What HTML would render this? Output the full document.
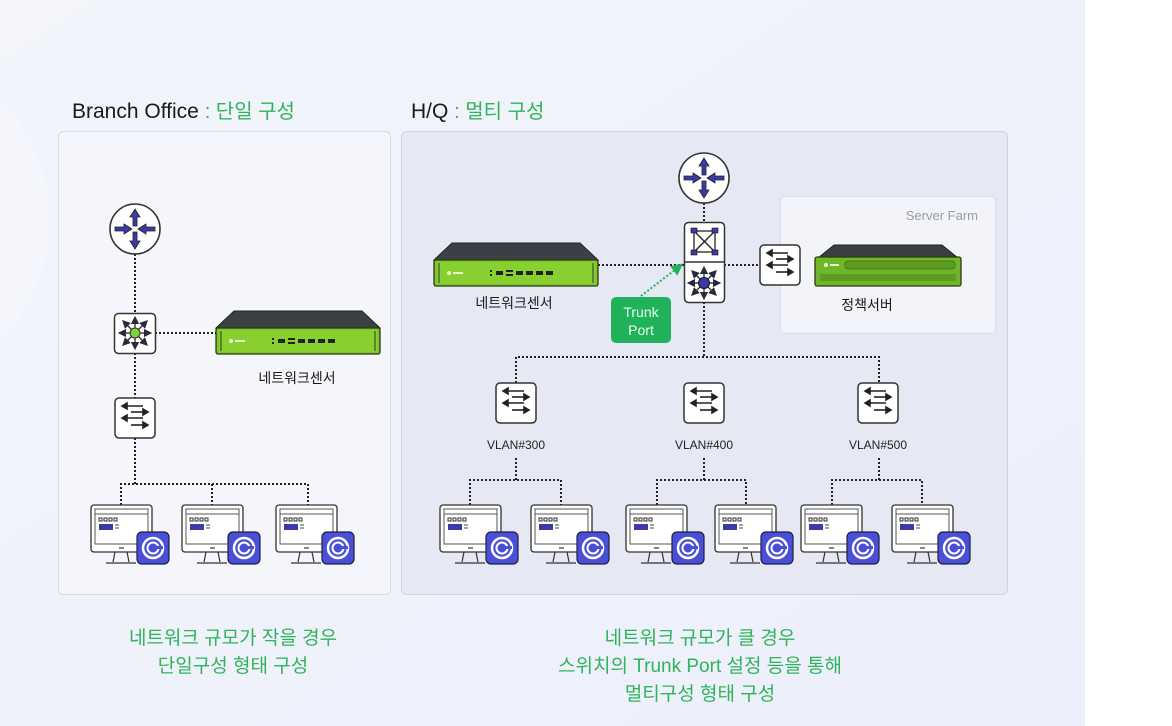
<!DOCTYPE html>
<html><head><meta charset="utf-8"><style>
html,body{margin:0;padding:0;width:1172px;height:726px;overflow:hidden;background:#fff}
svg{display:block}
text{font-family:"Liberation Sans","Noto Sans CJK KR",sans-serif}
</style></head><body>
<svg width="1172" height="726" viewBox="0 0 1172 726" xmlns="http://www.w3.org/2000/svg">
<defs>
<linearGradient id="bg" x1="0" y1="0" x2="1" y2="1">
<stop offset="0" stop-color="#f3f5fb"/><stop offset="1" stop-color="#eceffb"/></linearGradient>
<marker id="ah" markerWidth="6" markerHeight="6" refX="3" refY="3" orient="auto"><path d="M0,0L6,3L0,6z" fill="#2a2a3a"/></marker>
<marker id="gh" markerWidth="6" markerHeight="6" refX="4" refY="3" orient="auto"><path d="M0,0L6,3L0,6z" fill="#22b35a"/></marker>
<g id="router">
<circle cx="0" cy="0" r="25" fill="#fff" stroke="#333" stroke-width="1.6"/>
<path d="M0,-20 L-5,-12 L-2,-12 L-2,-3 L2,-3 L2,-12 L5,-12Z" fill="#3b3aa8" stroke="#222" stroke-width=".8"/>
<path d="M0,20 L-5,12 L-2,12 L-2,3 L2,3 L2,12 L5,12Z" fill="#3b3aa8" stroke="#222" stroke-width=".8"/>
<path d="M-3,0 L-11,-5 L-11,-2 L-20,-2 L-20,2 L-11,2 L-11,5Z" fill="#3b3aa8" stroke="#222" stroke-width=".8"/>
<path d="M3,0 L11,-5 L11,-2 L20,-2 L20,2 L11,2 L11,5Z" fill="#3b3aa8" stroke="#222" stroke-width=".8"/>
</g>
<g id="l2">
<rect x="-20" y="-20" width="40" height="40" rx="4" fill="#fff" stroke="#333" stroke-width="1.5"/>
<g stroke="#222" stroke-width="1.6" fill="none">
<path d="M8,-12 H-10"/><path d="M-13,-12 l5,-3 v6z" fill="#222"/>
<path d="M-4,-6 H10"/><path d="M13,-6 l-5,-3 v6z" fill="#222"/>
<path d="M8,0 H-10"/><path d="M-13,0 l5,-3 v6z" fill="#222"/>
<path d="M-4,7 H10"/><path d="M13,7 l-5,-3 v6z" fill="#222"/>
</g></g>
<g id="star">
<g stroke="#333" stroke-width="1.4" marker-end="url(#ah)">
<line x1="0" y1="0" x2="0" y2="-13"/><line x1="0" y1="0" x2="0" y2="13"/>
<line x1="0" y1="0" x2="-13" y2="0"/><line x1="0" y1="0" x2="13" y2="0"/>
<line x1="0" y1="0" x2="-10" y2="-10"/><line x1="0" y1="0" x2="10" y2="10"/>
<line x1="0" y1="0" x2="-10" y2="10"/><line x1="0" y1="0" x2="10" y2="-10"/>
</g></g>
<g id="pc">
<rect x="-30" y="0" width="61" height="47" rx="3" fill="#fff" stroke="#333" stroke-width="1.3"/>
<rect x="-26" y="4" width="53" height="35" fill="#fff" stroke="#555" stroke-width="1"/>
<line x1="-26" y1="9" x2="27" y2="9" stroke="#555"/>
<g fill="none" stroke="#333" stroke-width="1"><rect x="-22" y="13" width="3" height="3"/><rect x="-17" y="13" width="3" height="3"/><rect x="-12" y="13" width="3" height="3"/><rect x="-7" y="13" width="3" height="3"/></g>
<rect x="-22" y="19" width="14" height="6" fill="#3b3aa8"/>
<line x1="-6" y1="20" x2="-2" y2="20" stroke="#444"/><line x1="-6" y1="23" x2="-2" y2="23" stroke="#444"/>
<line x1="-2" y1="43" x2="3" y2="43" stroke="#333" stroke-width="1.2"/>
<path d="M-6,47 L-8,57 M6,47 L8,57 M-15,58 H15" stroke="#333" stroke-width="1.2" fill="none"/>
<rect x="16" y="27" width="32" height="32" rx="5" fill="#4a4fd8" stroke="#1e1e40" stroke-width="1.2"/>
<circle cx="32" cy="43" r="10" fill="none" stroke="#fff" stroke-width="2.5"/>
<circle cx="32" cy="43" r="5.5" fill="none" stroke="#fff" stroke-width="2"/>
<rect x="32" y="41" width="10" height="3" fill="#4a4fd8"/>
</g>
<g id="sensor">
<path d="M18,0 H146 L164,17 H0Z" fill="#3c3f44" stroke="#222"/>
<rect x="0" y="17" width="164" height="26" rx="2" fill="#7dc52c" stroke="#2a3a10" stroke-width="1.3"/>
<rect x="3" y="19" width="158" height="22" fill="#88cf30"/>
<line x1="5" y1="20" x2="5" y2="40" stroke="#333"/><line x1="159" y1="20" x2="159" y2="40" stroke="#333"/>
<circle cx="15" cy="30" r="2" fill="#e8f6d0"/><rect x="19" y="29" width="10" height="2" fill="#e8f6d0"/>
<g fill="#222"><rect x="56" y="27" width="2" height="2"/><rect x="56" y="31" width="2" height="2"/>
<rect x="62" y="28" width="7" height="4"/><rect x="72" y="27" width="7" height="2"/><rect x="72" y="31" width="7" height="2"/>
<rect x="82" y="28" width="7" height="4"/><rect x="92" y="28" width="7" height="4"/><rect x="102" y="28" width="7" height="4"/><rect x="112" y="28" width="7" height="4"/></g>
</g>
</defs>

<rect width="1085" height="726" fill="url(#bg)"/>
<circle cx="-120" cy="220" r="170" fill="#f6f7fc" opacity=".7"/>

<text x="72" y="118" font-size="21" fill="#1a1a1a">Branch Office <tspan fill="#2fb45a" font-size="20">: 단일 구성</tspan></text>
<text x="411" y="118" font-size="21" fill="#1a1a1a">H/Q <tspan fill="#2fb45a" font-size="20">: 멀티 구성</tspan></text>

<rect x="58.5" y="131.5" width="332" height="463" rx="5" fill="#f4f6fb" stroke="#d8dbe5"/>
<rect x="401.5" y="131.5" width="606" height="463" rx="5" fill="#e6e9f3" stroke="#d0d4e0"/>
<rect x="780.5" y="196.5" width="215" height="137" rx="4" fill="#f3f4f9" stroke="#d8dbe5"/>
<text x="978" y="220" font-size="13" fill="#9a9ca6" text-anchor="end">Server Farm</text>

<g stroke="#222" stroke-width="2" stroke-dasharray="2,2" fill="none">
<line x1="135" y1="254" x2="135" y2="313"/>
<line x1="155" y1="333" x2="216" y2="333"/>
<line x1="135" y1="353" x2="135" y2="398"/>
<line x1="135" y1="438" x2="135" y2="484"/>
<path d="M121,505 V484 H308 V505"/><line x1="212" y1="484" x2="212" y2="505"/>
<line x1="704" y1="203" x2="704" y2="222"/>
<line x1="598" y1="265" x2="684" y2="265"/>
<line x1="724" y1="265" x2="760" y2="265"/>
<line x1="704" y1="302" x2="704" y2="357"/>
<path d="M516,383 V357 H879 V383"/>
<line x1="516" y1="423" x2="516" y2="433" stroke="none"/>
<line x1="516" y1="458" x2="516" y2="480"/><path d="M470,505 V480 H561 V505"/>
<line x1="704" y1="458" x2="704" y2="480"/><path d="M657,505 V480 H746 V505"/>
<line x1="879" y1="458" x2="879" y2="480"/><path d="M832,505 V480 H922 V505"/>
</g>

<use href="#router" x="135" y="229"/>
<rect x="114.5" y="313.5" width="41" height="40" rx="4" fill="#fff" stroke="#333" stroke-width="1.5"/>
<use href="#star" x="135" y="333"/>
<circle cx="135" cy="333" r="5" fill="#7dd23a" stroke="#333"/>
<use href="#sensor" x="216" y="311"/>
<text x="297" y="383" font-size="14" fill="#1a1a1a" text-anchor="middle">네트워크센서</text>
<use href="#l2" x="135" y="418"/>
<use href="#pc" x="121" y="505"/><use href="#pc" x="212" y="505"/><use href="#pc" x="306" y="505"/>

<use href="#router" x="704" y="178"/>
<rect x="684.5" y="222.5" width="40" height="80" rx="4" fill="#fff" stroke="#333" stroke-width="1.5"/>
<line x1="684" y1="262" x2="724" y2="262" stroke="#333" stroke-width="1.5"/>
<g stroke="#222" stroke-width="1.3"><rect x="694" y="231" width="21" height="21" fill="none"/><line x1="694" y1="231" x2="715" y2="252"/><line x1="715" y1="231" x2="694" y2="252"/></g>
<g fill="#3b3aa8" stroke="#111" stroke-width=".6"><rect x="691" y="228" width="6" height="5"/><rect x="712" y="228" width="6" height="5"/><rect x="691" y="250" width="6" height="5"/><rect x="712" y="250" width="6" height="5"/></g>
<use href="#star" x="704" y="283"/>
<circle cx="704" cy="283" r="5.5" fill="#3b3aa8" stroke="#111"/>
<use href="#sensor" x="434" y="243"/>
<text x="514" y="308" font-size="14" fill="#1a1a1a" text-anchor="middle">네트워크센서</text>
<line x1="641" y1="296" x2="680" y2="266" stroke="#22b35a" stroke-width="2" stroke-dasharray="2,2" marker-end="url(#gh)"/>
<rect x="611" y="297" width="60" height="46" rx="5" fill="#1fb25a"/>
<text x="641" y="317" font-size="14" fill="#eafff0" text-anchor="middle">Trunk</text>
<text x="641" y="335" font-size="14" fill="#eafff0" text-anchor="middle">Port</text>
<use href="#l2" x="780" y="265"/>
<g>
<path d="M834,245 H942 L958,258 H818Z" fill="#3c3f44" stroke="#222"/>
<rect x="815" y="257" width="146" height="29" rx="2" fill="#6fb72a" stroke="#2a3a10" stroke-width="1.3"/>
<rect x="845" y="261" width="110" height="8" rx="3" fill="#5d9b22" stroke="#4a7d1a"/>
<rect x="820" y="274" width="136" height="7" fill="#5d9b22"/>
<circle cx="826" cy="265" r="2" fill="#e8f6d0"/><rect x="830" y="264" width="9" height="2" fill="#e8f6d0"/>
</g>
<text x="867" y="310" font-size="14" fill="#1a1a1a" text-anchor="middle">정책서버</text>

<use href="#l2" x="516" y="403"/><use href="#l2" x="704" y="403"/><use href="#l2" x="878" y="403"/>
<g font-size="12" fill="#222" text-anchor="middle"><text x="516" y="449">VLAN#300</text><text x="704" y="449">VLAN#400</text><text x="878" y="449">VLAN#500</text></g>
<use href="#pc" x="470" y="505"/><use href="#pc" x="561" y="505"/><use href="#pc" x="656" y="505"/><use href="#pc" x="745" y="505"/><use href="#pc" x="831" y="505"/><use href="#pc" x="922" y="505"/>

<g font-size="19" fill="#2fb45a" text-anchor="middle">
<text x="233" y="644">네트워크 규모가 작을 경우</text>
<text x="233" y="672">단일구성 형태 구성</text>
<text x="700" y="644">네트워크 규모가 클 경우</text>
<text x="700" y="672">스위치의 Trunk Port 설정 등을 통해</text>
<text x="700" y="700">멀티구성 형태 구성</text>
</g>
</svg>
</body></html>
